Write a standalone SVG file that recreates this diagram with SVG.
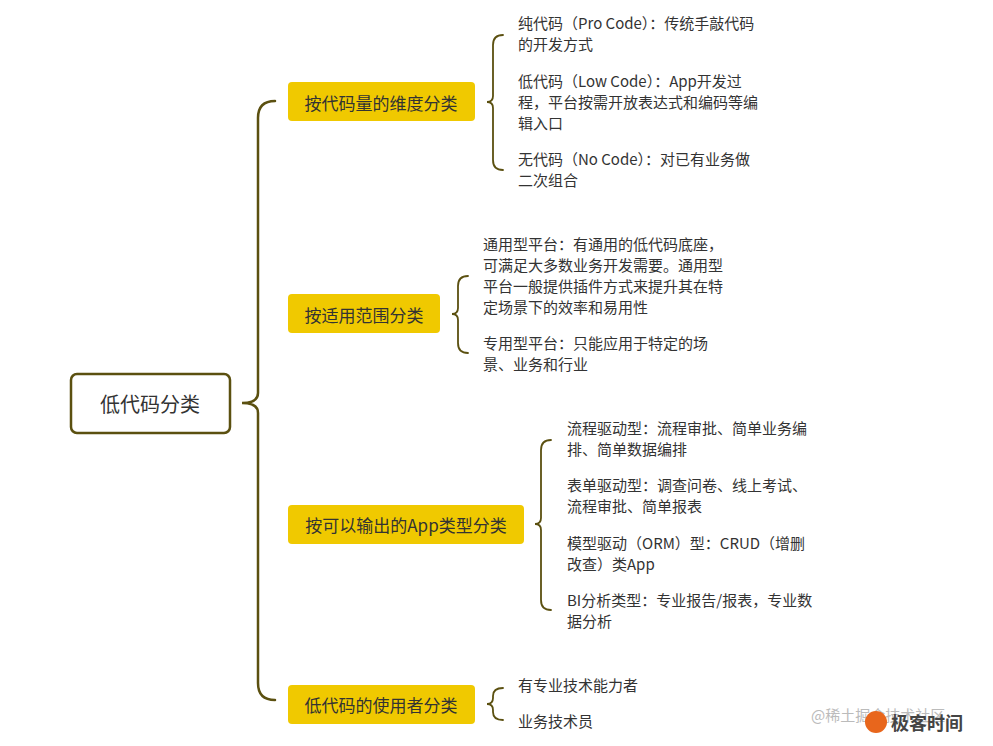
<svg xmlns="http://www.w3.org/2000/svg" width="993" height="746" viewBox="0 0 993 746">
<style>
.br{fill:none;stroke:#5b5010;stroke-width:2.5;stroke-linecap:round}
.bs{fill:none;stroke:#5b5010;stroke-width:1.8;stroke-linecap:round}
.yn{fill:#f0c900}
.t{font-family:"Noto Sans CJK SC","Liberation Sans",sans-serif;font-size:15px;fill:#333}
.n{font-family:"Noto Sans CJK SC","Liberation Sans",sans-serif;font-size:17px;fill:#333;text-anchor:middle;dominant-baseline:central}
</style>
<rect width="993" height="746" fill="#fff"/>
<g id="connectors">
<path class="br" d="M275 101 Q258 101 258 118 L258 393 Q258 403 242 403 Q258 403 258 413 L258 683 Q258 700 275 700"/>
<path class="bs" d="M503 35 Q493 35 493 45 L493 96 Q493 102 487 102 Q493 102 493 108 L493 160 Q493 170 503 170"/>
<path class="bs" d="M468 276 Q458 276 458 286 L458 308 Q458 314 452 314 Q458 314 458 320 L458 343 Q458 353 468 353"/>
<path class="bs" d="M551 440 Q541 440 541 450 L541 518 Q541 524 535 524 Q541 524 541 530 L541 600 Q541 610 551 610"/>
<path class="bs" d="M503 688 Q493 688 493 696 L493 698 Q493 704 487 704 Q493 704 493 710 L493 712 Q493 720 503 720"/>
</g>
<g id="root">
<rect x="71" y="374" width="159" height="59" rx="6" fill="#fff" stroke="#5b5010" stroke-width="2.5"/>
<text class="n" x="150" y="403" style="font-size:20px">低代码分类</text>
</g>
<g id="n1"><rect class="yn" x="288" y="82" width="187" height="39" rx="4"/><text class="n" x="381" y="102">按代码量的维度分类</text></g>
<g id="n2"><rect class="yn" x="288" y="294" width="152" height="39" rx="4"/><text class="n" x="364" y="314">按适用范围分类</text></g>
<g id="n3"><rect class="yn" x="288" y="505" width="236" height="39" rx="4"/><text class="n" x="406" y="524">按可以输出的App类型分类</text></g>
<g id="n4"><rect class="yn" x="288" y="685" width="187" height="39" rx="4"/><text class="n" x="381" y="704">低代码的使用者分类</text></g>
<g id="leaves1">
<text class="t" x="518" y="29">纯代码（Pro Code）：传统手敲代码</text>
<text class="t" x="518" y="50">的开发方式</text>
<text class="t" x="518" y="87">低代码（Low Code）：App开发过</text>
<text class="t" x="518" y="108">程，平台按需开放表达式和编码等编</text>
<text class="t" x="518" y="129">辑入口</text>
<text class="t" x="518" y="165">无代码（No Code）：对已有业务做</text>
<text class="t" x="518" y="186">二次组合</text>
</g>
<g id="leaves2">
<text class="t" x="483" y="250">通用型平台：有通用的低代码底座，</text>
<text class="t" x="483" y="271">可满足大多数业务开发需要。通用型</text>
<text class="t" x="483" y="292">平台一般提供插件方式来提升其在特</text>
<text class="t" x="483" y="313">定场景下的效率和易用性</text>
<text class="t" x="483" y="349">专用型平台：只能应用于特定的场</text>
<text class="t" x="483" y="370">景、业务和行业</text>
</g>
<g id="leaves3">
<text class="t" x="567" y="434">流程驱动型：流程审批、简单业务编</text>
<text class="t" x="567" y="455">排、简单数据编排</text>
<text class="t" x="567" y="491">表单驱动型：调查问卷、线上考试、</text>
<text class="t" x="567" y="512">流程审批、简单报表</text>
<text class="t" x="567" y="549">模型驱动（ORM）型：CRUD（增删</text>
<text class="t" x="567" y="570">改查）类App</text>
<text class="t" x="567" y="606">BI分析类型：专业报告/报表，专业数</text>
<text class="t" x="567" y="627">据分析</text>
</g>
<g id="leaves4">
<text class="t" x="518" y="691">有专业技术能力者</text>
<text class="t" x="518" y="727">业务技术员</text>
</g>
<g id="watermark">
<text x="811" y="721" style="font-family:'Noto Sans CJK SC',sans-serif;font-size:15px;fill:#bbb">@稀土掘金技术社区</text>
<circle cx="876" cy="722" r="11" fill="#e8661c"/>
<text x="891" y="730" style="font-family:'Noto Sans CJK SC',sans-serif;font-size:18px;font-weight:bold;fill:#444">极客时间</text>
</g>
</svg>
